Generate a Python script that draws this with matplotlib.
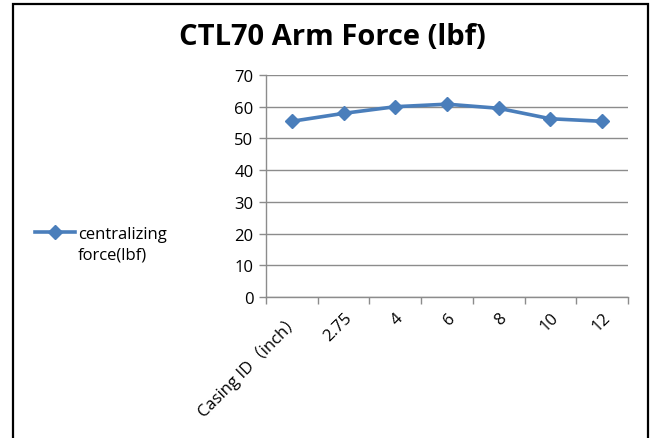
import numpy as np
import matplotlib
matplotlib.use('Agg')
import matplotlib.pyplot as plt
from matplotlib.ticker import FixedLocator
from matplotlib.patches import Rectangle

plt.rcParams['font.family'] = ['Open Sans', 'Noto Sans CJK SC', 'DejaVu Sans']

categories = ['Casing ID（inch）', '2.75', '4', '6', '8', '10', '12']
force_lbf = [55.4, 57.9, 60.0, 60.8, 59.5, 56.2, 55.4]
y_ticks = [0, 10, 20, 30, 40, 50, 60, 70]

blue = '#4a7ebb'
grid_gray = '#8c8c8c'

fig = plt.figure(figsize=(6.54, 4.39), dpi=100)
ax = fig.add_axes([0.4067, 0.3212, 0.5535, 0.5057])

x = np.arange(len(categories))
ax.plot(x, force_lbf, color=blue, linewidth=2.6, marker='D', markersize=7.5,
        markerfacecolor=blue, markeredgecolor=blue, label='centralizing')

ax.set_xlim(-0.5, len(categories) - 0.5)
ax.set_ylim(0, 70)
ax.set_yticks(y_ticks)
ax.yaxis.grid(True, color=grid_gray, linewidth=1.0)
ax.set_axisbelow(True)

ax.set_xticks(x)
ax.set_xticklabels(categories, rotation=45, ha='right', rotation_mode='anchor')
ax.xaxis.set_minor_locator(FixedLocator(np.arange(len(categories) + 1) - 0.5))
ax.tick_params(axis='x', which='major', length=0, pad=9, labelsize=12)
ax.tick_params(axis='x', which='minor', length=5, color=grid_gray, width=1)
ax.tick_params(axis='y', length=5, color=grid_gray, width=1, labelsize=12, pad=4)

for side in ['top', 'right']:
    ax.spines[side].set_visible(False)
for side in ['left', 'bottom']:
    ax.spines[side].set_color(grid_gray)
    ax.spines[side].set_linewidth(1.0)

fig.text(0.508, 0.915, 'CTL70 Arm Force (lbf)', ha='center', va='center',
         fontsize=21, fontweight='bold')

leg = fig.legend(loc='center left', bbox_to_anchor=(35 / 654, 1 - 235 / 439), frameon=False,
                 fontsize=12, handlelength=2.4, handletextpad=0.2, borderpad=0,
                 borderaxespad=0)
fig.text(78 / 654, 1 - 256 / 439, 'force(lbf)', ha='left', va='center', fontsize=12)

# outer chart frame
fig.patches.append(Rectangle((13 / 654, -0.05), 635 / 654, 1 - 4.5 / 439 + 0.05,
                             transform=fig.transFigure, fill=False,
                             edgecolor='black', linewidth=1.6))

fig.savefig('out.png', dpi=100)
